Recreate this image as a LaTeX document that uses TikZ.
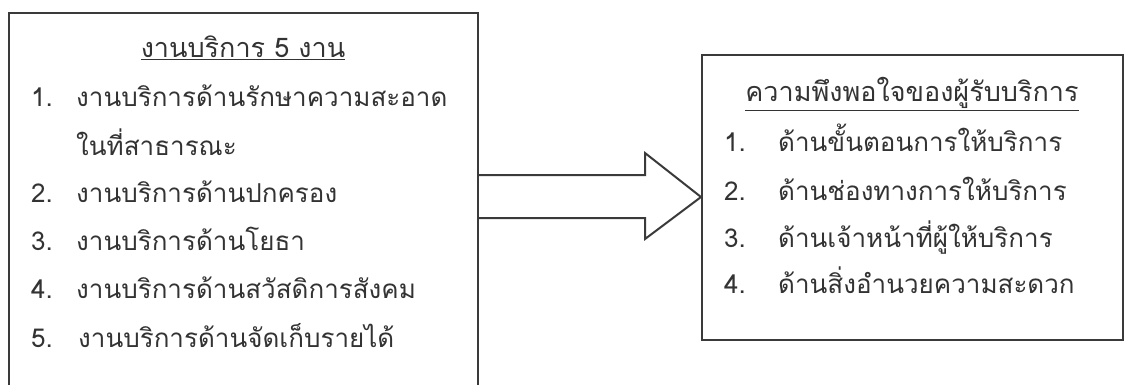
\documentclass[tikz,border=0pt]{standalone}
\usepackage{fontspec}
\newfontfamily\thaifont[Script=Thai]{Loma}
\definecolor{ink}{HTML}{333333}
\definecolor{frame}{HTML}{3A3A3A}
\begin{document}
\begin{tikzpicture}[x=1pt,y=-1pt,
  boxline/.style={draw=frame,line width=2pt},
  txt/.style={anchor=base west,inner sep=0pt,text=ink,font=\thaifont\fontsize{26}{30}\selectfont},
  ttl/.style={anchor=base,inner sep=0pt,text=ink,font=\thaifont\fontsize{27}{30}\selectfont}]
\useasboundingbox (0,0) rectangle (1124,385);
\clip (0,0) rectangle (1124,385);
% boxes
\node[boxline,rectangle,anchor=north west,minimum width=469pt,minimum height=390pt,inner sep=0pt] (L) at (8,12) {};
\node[boxline,rectangle,anchor=north west,minimum width=421pt,minimum height=285pt,inner sep=0pt] (R) at (701,54) {};
% left box text
\node[ttl] (lt) at (243,58) {\underline{งานบริการ 5 งาน}};
\node[txt] (ln1) at (31,107) {1.};
\node[txt] (l1) at (76,107) {งานบริการด้านรักษาความสะอาด};
\node[txt] (l1b) at (76,155) {ในที่สาธารณะ};
\node[txt] (ln2) at (31,202) {2.};
\node[txt] (l2) at (76,202) {งานบริการด้านปกครอง};
\node[txt] (ln3) at (31,250) {3.};
\node[txt] (l3) at (76,250) {งานบริการด้านโยธา};
\node[txt] (ln4) at (31,298) {4.};
\node[txt] (l4) at (76,298) {งานบริการด้านสวัสดิการสังคม};
\node[txt] (ln5) at (31,347) {5.};
\node[txt] (l5) at (78,347) {งานบริการด้านจัดเก็บรายได้};
% right box text
\node[ttl] (rt) at (912,102) {\underline{ความพึงพอใจของผู้รับบริการ}};
\node[txt] (rn1) at (724,152) {1.};
\node[txt] (r1) at (778,152) {ด้านขั้นตอนการให้บริการ};
\node[txt] (rn2) at (724,200) {2.};
\node[txt] (r2) at (778,200) {ด้านช่องทางการให้บริการ};
\node[txt] (rn3) at (724,247) {3.};
\node[txt] (r3) at (778,247) {ด้านเจ้าหน้าที่ผู้ให้บริการ};
\node[txt] (rn4) at (724,293) {4.};
\node[txt] (r4) at (778,293) {ด้านสิ่งอำนวยความสะดวก};
% block arrow from L to R
\coordinate (tip) at (R.west |- 0,197);
\draw[draw=frame,line width=2pt,fill=white,line join=miter]
  (L.east |- 0,175) -- (645,175) -- (645,153) -- (tip) -- (645,239) -- (645,218) -- (L.east |- 0,218);
\end{tikzpicture}
\end{document}
